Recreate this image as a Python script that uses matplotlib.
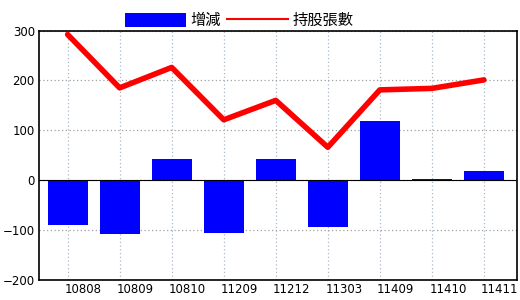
import matplotlib as mpl
mpl.use("Agg")
import matplotlib.pyplot as plt
import matplotlib.transforms as mtransforms
from matplotlib.patches import Patch
from matplotlib.lines import Line2D
import numpy as np

periods = ["10808", "10809", "10810", "11209", "11212", "11303", "11409", "11410", "11411"]
change = [-89, -107, 42, -105, 42, -93, 118, 3, 18]
holdings = [292, 185, 226, 121, 160, 66, 181, 184, 201]

BLUE = "#0000FF"
RED = "#FF0000"
GRID_V = "#A8B8C8"
GRID_H = "#A0A0A0"

plt.rcParams["font.family"] = ["Noto Sans CJK TC", "DejaVu Sans"]

fig = plt.figure(figsize=(5.2, 3.0), dpi=100)
ax = fig.add_axes([39 / 520, 20 / 300, (516.7 - 39) / 520, (280 - 30.5) / 300])

x = np.arange(len(periods))
ax.bar(x, change, width=0.77, color=BLUE, zorder=2)
ax.plot(x, holdings, color=RED, linewidth=4, zorder=3, solid_capstyle="round")
ax.axhline(0, color="black", linewidth=0.8, zorder=2.5)

ax.set_xlim(-0.55, 8.63)
ax.set_ylim(-200, 300)
ax.set_yticks([-200, -100, 0, 100, 200, 300])
ax.set_xticks(x)
ax.set_xticklabels(periods)
ax.tick_params(axis="both", length=0, labelsize=8.5, colors="black")
ax.tick_params(axis="x", pad=2)
ax.tick_params(axis="y", pad=3)
offset = mtransforms.ScaledTranslation(16 / 100, 0, fig.dpi_scale_trans)
for lab in ax.get_xticklabels():
    lab.set_transform(lab.get_transform() + offset)
for lab in ax.get_xticklabels() + ax.get_yticklabels():
    lab.set_fontfamily("DejaVu Sans")

ax.grid(True, axis="x", color=GRID_V, linestyle=(0, (1, 2)), linewidth=0.9, zorder=1)
ax.grid(True, axis="y", color=GRID_H, linestyle=(0, (1, 2)), linewidth=0.9, zorder=1)
for s in ax.spines.values():
    s.set_color("black")
    s.set_linewidth(1.2)

handles = [Patch(facecolor=BLUE, edgecolor="none"), Line2D([0], [0], color=RED, linewidth=1.5)]
fig.legend(handles, ["增減", "持股張數"], loc="upper center", bbox_to_anchor=(0.46, 1.005),
           ncol=2, frameon=False, fontsize=11, handlelength=4.0, handleheight=1.1,
           handletextpad=0.3, columnspacing=0.4)

fig.savefig("out.png", dpi=100)
